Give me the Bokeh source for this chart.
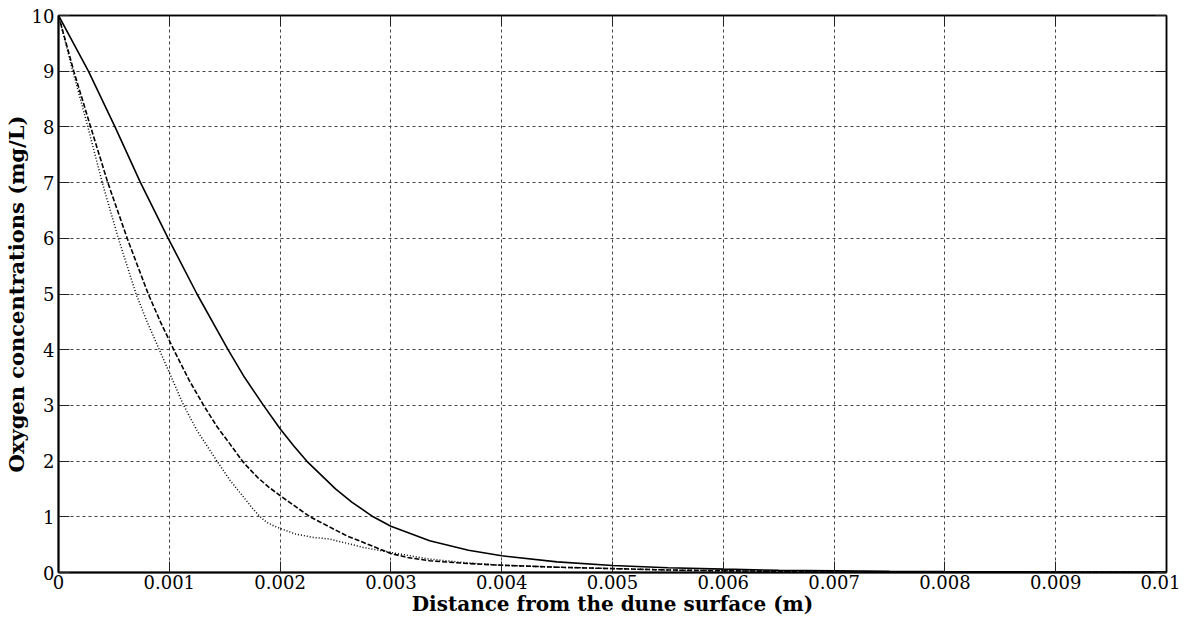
from bokeh.plotting import figure
from bokeh.models import LinearAxis, FixedTicker, Range1d, CustomJSTickFormatter
from bokeh.embed import file_html
from bokeh.resources import INLINE

# ---- data ----
x_ticks = [0, 0.001, 0.002, 0.003, 0.004, 0.005, 0.006, 0.007, 0.008, 0.009, 0.01]
x_tick_labels = ["0", "0.001", "0.002", "0.003", "0.004", "0.005", "0.006", "0.007", "0.008", "0.009", "0.01"]
y_ticks = [0, 1, 2, 3, 4, 5, 6, 7, 8, 9, 10]

solid_x = [0, 0.00027, 0.00051, 0.00074, 0.00099, 0.00125, 0.00153, 0.00168, 0.00185,
           0.002, 0.00212, 0.00224, 0.0025, 0.00265, 0.00284, 0.003, 0.00335, 0.0037, 0.004, 0.0045,
           0.005, 0.0055, 0.006, 0.0065, 0.007, 0.0075, 0.008, 0.009, 0.01]
solid_y = [10, 9, 8, 7, 6, 5, 4, 3.5, 3.0, 2.58, 2.28, 2.0, 1.5, 1.26, 1.0, 0.83, 0.57, 0.4,
           0.3, 0.19, 0.125, 0.085, 0.06, 0.04, 0.03, 0.02, 0.015, 0.01, 0.007]

dashed_x = [0, 0.000138, 0.00029, 0.000445, 0.00062, 0.00081, 0.00092, 0.00104, 0.00118, 0.00131,
            0.00143, 0.00155, 0.00166, 0.0017, 0.0018, 0.0019, 0.002, 0.00227, 0.0026, 0.003,
            0.00315, 0.00335, 0.0037, 0.004, 0.0045, 0.005, 0.0055, 0.006, 0.007, 0.008, 0.009, 0.01]
dashed_y = [10, 9, 8, 7, 6, 5, 4.5, 4, 3.45, 3, 2.62, 2.3, 2.0, 1.91, 1.70, 1.53, 1.38, 1.0, 0.66,
            0.34, 0.27, 0.21, 0.16, 0.13, 0.095, 0.07, 0.045, 0.03, 0.015, 0.01, 0.006, 0.004]

dotted_x = [0, 0.00013, 0.000265, 0.000395, 0.00054, 0.0007, 0.0008, 0.00091, 0.00102, 0.00113,
            0.00125, 0.00143, 0.00155, 0.0017, 0.00176, 0.00182, 0.00188, 0.00194, 0.002, 0.00214,
            0.0023, 0.00245, 0.00275, 0.003, 0.00335, 0.0037, 0.004, 0.0045, 0.005, 0.0055, 0.006,
            0.007, 0.008, 0.009, 0.01]
dotted_y = [10, 9, 8, 7, 6, 5, 4.5, 4, 3.5, 3, 2.55, 2, 1.65, 1.28, 1.13, 1.0, 0.9, 0.84, 0.79, 0.69,
            0.63, 0.6, 0.45, 0.36, 0.24, 0.17, 0.13, 0.095, 0.07, 0.045, 0.03, 0.015, 0.01, 0.006,
            0.004]

x_label = "Distance from the dune surface (m)"
y_label = "Oxygen concentrations (mg/L)"

FONT = "DejaVu Serif"

p = figure(width=1180, height=618, output_backend="svg", toolbar_location=None,
           x_range=Range1d(0, 0.01), y_range=Range1d(0, 10),
           min_border_left=51, min_border_right=14, min_border_top=15, min_border_bottom=44,
           background_fill_color="white", border_fill_color="white")
p.outline_line_color = "black"
p.outline_line_width = 1.5

p.line(solid_x, solid_y, line_color="black", line_width=1.6)
p.line(dashed_x, dashed_y, line_color="black", line_width=1.6, line_dash="5 2")
p.line(dotted_x, dotted_y, line_color="black", line_width=1.5, line_dash="1 2")

for ax, ticks in ((p.xaxis[0], x_ticks), (p.yaxis[0], y_ticks)):
    ax.ticker = FixedTicker(ticks=ticks)
    ax.major_tick_in = 11
    ax.major_tick_out = 0
    ax.minor_tick_line_color = None
    ax.major_tick_line_color = "#222222"
    ax.axis_line_color = "black"
    ax.axis_line_width = 2
    ax.major_label_text_font = FONT
    ax.major_label_text_font_size = "18px"
    ax.major_label_text_color = "black"
    ax.axis_label_text_font = FONT
    ax.axis_label_text_font_style = "bold"
    ax.axis_label_text_color = "black"

p.xaxis[0].major_label_overrides = {t: l for t, l in zip(x_ticks, x_tick_labels)}
p.xaxis[0].axis_label = x_label
p.xaxis[0].axis_label_text_font_size = "20px"
p.xaxis[0].major_label_standoff = 2
p.xaxis[0].axis_label_standoff = 0
p.yaxis[0].axis_label = y_label
p.yaxis[0].axis_label_text_font_size = "21px"
p.yaxis[0].major_label_standoff = 4
p.yaxis[0].axis_label_standoff = 0

for loc, ticks in (("above", x_ticks), ("right", y_ticks)):
    a = LinearAxis(ticker=FixedTicker(ticks=ticks),
                   formatter=CustomJSTickFormatter(code="return ''"))
    a.major_tick_in = 11
    a.major_tick_out = 0
    a.minor_tick_line_color = None
    a.major_tick_line_color = "#222222"
    a.axis_line_color = "black"
    a.axis_line_width = 1.5
    a.major_label_standoff = 0
    p.add_layout(a, loc)

p.xgrid.ticker = FixedTicker(ticks=x_ticks[1:-1])
p.ygrid.ticker = FixedTicker(ticks=y_ticks[1:-1])
for g in (p.xgrid[0], p.ygrid[0]):
    g.grid_line_color = "#444444"
    g.grid_line_dash = "3 3"
    g.grid_line_width = 1

open("out.html", "w").write(file_html(p, INLINE))
